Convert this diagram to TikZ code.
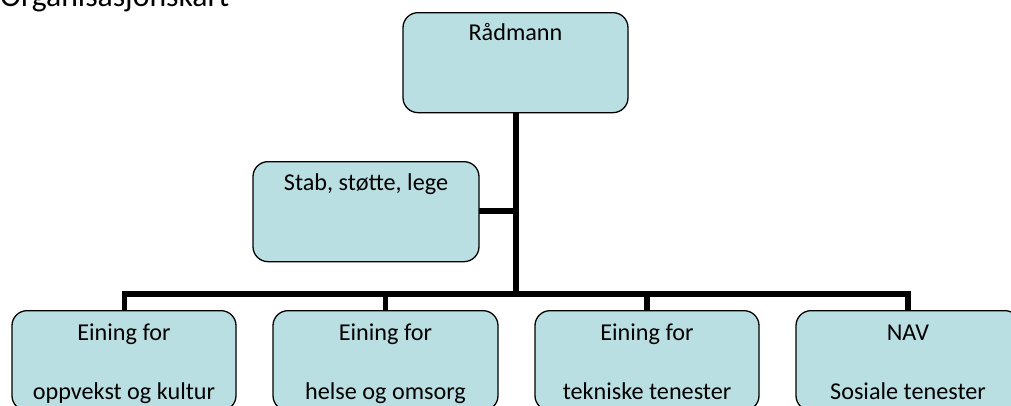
\documentclass[tikz,border=0pt]{standalone}
\usepackage{fontspec}
\setmainfont{Carlito}
\definecolor{boxfill}{HTML}{B9DFE3}
\begin{document}
\begin{tikzpicture}[x=1pt,y=-1pt,
  orgbox/.style={draw=black, line width=1.3pt, fill=boxfill, rounded corners=15pt,
    minimum width=225pt, minimum height=100pt, inner sep=0pt, anchor=north},
  lbl/.style={anchor=base, inner sep=0pt, font=\fontsize{24.2}{29}\selectfont, text=black},
  conn/.style={line width=5.5pt, draw=black}]
\useasboundingbox (0,0) rectangle (1011,405);
\clip (0,0) rectangle (1011,405);
\node[anchor=base west, inner sep=0pt, font=\fontsize{31.7}{38}\selectfont] (title) at (0,6.5) {Organisasjonskart};
% connectors
\coordinate (busL) at (124.5,294);
\coordinate (busR) at (908,294);
\coordinate (radbot) at (516,112);
\draw[conn] (124.5,310) coordinate (d1) -- (busL) -- (busR) -- (908,310) coordinate (d4);
\draw[conn] (385.5,310) coordinate (d2) -- (d2 |- busL);
\draw[conn] (647,310) coordinate (d3) -- (d3 |- busL);
\draw[conn] (radbot) -- (radbot |- busL);
\draw[conn] (479,211) coordinate (stabE) -- (stabE -| radbot);
% boxes
\node[orgbox] (rad) at (515.5,12) {};
\node[orgbox, minimum width=226pt] (stab) at (366,161) {};
\node[orgbox, minimum width=224pt] (b1) at (124,310) {};
\node[orgbox] (b2) at (385.5,310) {};
\node[orgbox, minimum width=224pt] (b3) at (647,310) {};
\node[orgbox, minimum width=224pt] (b4) at (908,310) {};
% labels
\node[lbl] (trad) at ([yshift=-28.7pt]rad.north) {Rådmann};
\node[lbl] (tstab) at ([yshift=-29pt]stab.north) {Stab, støtte, lege};
\node[lbl] (t1a) at ([yshift=-30pt]b1.north) {Eining for};
\node[lbl] (t1b) at ([yshift=-89pt]b1.north) {oppvekst og kultur};
\node[lbl] (t2a) at ([yshift=-30pt]b2.north) {Eining for};
\node[lbl] (t2b) at ([yshift=-89pt]b2.north) {helse og omsorg};
\node[lbl] (t3a) at ([yshift=-30pt]b3.north) {Eining for};
\node[lbl] (t3b) at ([yshift=-89pt]b3.north) {tekniske tenester};
\node[lbl] (t4a) at ([yshift=-30pt]b4.north) {NAV};
\node[lbl] (t4b) at ([yshift=-89pt]b4.north) {Sosiale tenester};
\end{tikzpicture}
\end{document}
